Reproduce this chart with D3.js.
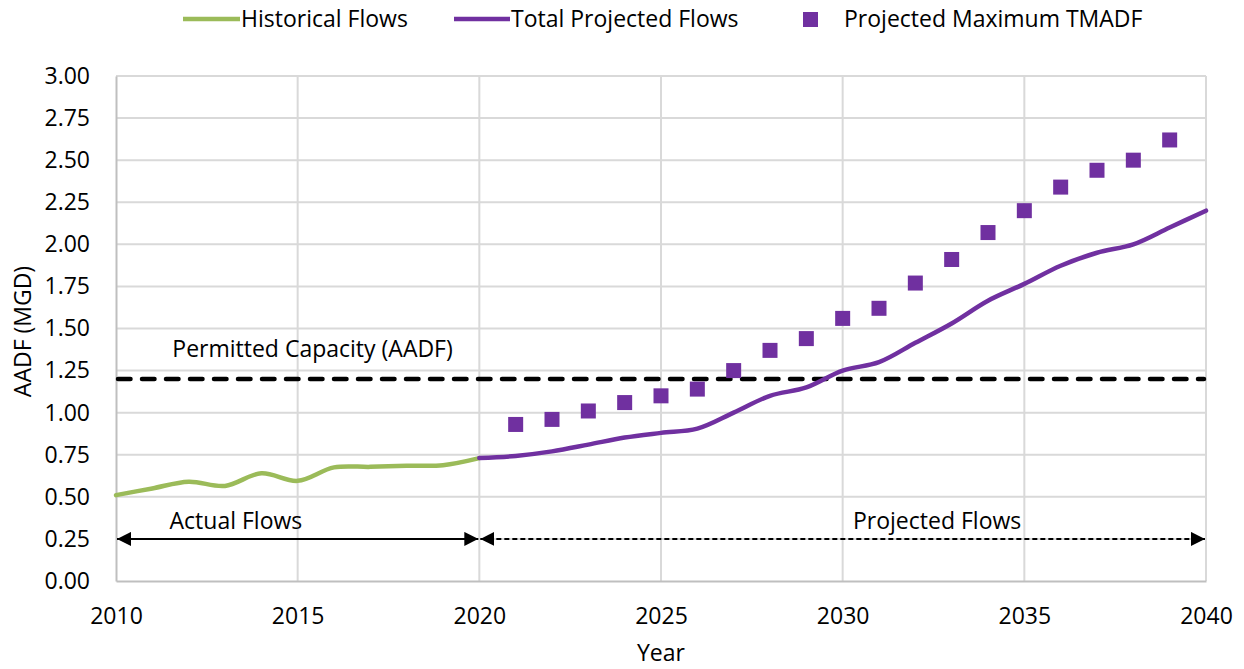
<!DOCTYPE html>
<html lang="en">
<head>
<meta charset="utf-8">
<title>AADF projections</title>
<script src="https://d3js.org/d3.v7.min.js"></script>
<style>
  body { margin: 0; background: #fff; font-family: 'Open Sans', sans-serif; }
  .tick text { font-family: 'Open Sans', sans-serif; font-size: 23px; fill: #000; }
  .lbl { font-family: 'Open Sans', sans-serif; font-size: 23px; fill: #000; }
</style>
</head>
<body>
<div id="chart"></div>
<script>

// data
var histYears = [2010, 2011, 2012, 2013, 2014, 2015, 2016, 2017, 2018, 2019, 2020];
var histFlows = [0.51, 0.55, 0.59, 0.565, 0.64, 0.595, 0.675, 0.678, 0.685, 0.688, 0.73];

var projYears = [2020, 2021, 2022, 2023, 2024, 2025, 2026, 2027, 2028, 2029, 2030,
                 2031, 2032, 2033, 2034, 2035, 2036, 2037, 2038, 2039, 2040];
var projFlows = [0.73, 0.743, 0.77, 0.81, 0.852, 0.88, 0.905, 1.0, 1.1, 1.15, 1.25,
                 1.30, 1.415, 1.53, 1.665, 1.765, 1.873, 1.95, 2.0, 2.10, 2.20];

var maxYears = [2021, 2022, 2023, 2024, 2025, 2026, 2027, 2028, 2029, 2030,
                2031, 2032, 2033, 2034, 2035, 2036, 2037, 2038, 2039];
var maxTmadf = [0.93, 0.96, 1.01, 1.06, 1.10, 1.14, 1.25, 1.37, 1.44, 1.56,
                1.62, 1.77, 1.91, 2.07, 2.20, 2.34, 2.44, 2.50, 2.62];

var permittedCapacity = 1.20;
var xTicks = [2010, 2015, 2020, 2025, 2030, 2035, 2040];
var yTicks = [0, 0.25, 0.5, 0.75, 1.0, 1.25, 1.5, 1.75, 2.0, 2.25, 2.5, 2.75, 3.0];

var colours = { green: "#9BBB59", purple: "#7030A0", grid: "#D9D9D9", axis: "#BFBFBF" };

var W = 1244, H = 669;
var margin = {top: 76, right: 38, bottom: 88, left: 116};
var width = W - margin.left - margin.right,
    height = H - margin.top - margin.bottom;

var svgRoot = d3.select("#chart").append("svg")
  .attr("width", W).attr("height", H);

var svg = svgRoot.append("g")
  .attr("transform", "translate(" + margin.left + "," + margin.top + ")");

var x = d3.scaleLinear().domain([2010, 2040]).range([0, width]);
var y = d3.scaleLinear().domain([0, 3]).range([height, 0]);

// gridlines
svg.append("g")
  .selectAll("line")
  .data(yTicks.slice(1))
  .join("line")
    .attr("x1", 0).attr("x2", width)
    .attr("y1", function(d) { return y(d) }).attr("y2", function(d) { return y(d) })
    .attr("stroke", colours.grid).attr("stroke-width", 2);

svg.append("g")
  .selectAll("line")
  .data(xTicks.slice(1))
  .join("line")
    .attr("x1", function(d) { return x(d) }).attr("x2", function(d) { return x(d) })
    .attr("y1", 0).attr("y2", height)
    .attr("stroke", colours.grid).attr("stroke-width", 2);

// axes
var xAxis = svg.append("g")
  .attr("transform", "translate(0," + height + ")")
  .call(d3.axisBottom(x).tickValues(xTicks).tickFormat(d3.format("d")).tickSize(0).tickPadding(27));
var yAxis = svg.append("g")
  .call(d3.axisLeft(y).tickValues(yTicks).tickFormat(d3.format(".2f")).tickSize(0).tickPadding(26));
[xAxis, yAxis].forEach(function(a) {
  a.select(".domain").attr("stroke", colours.axis).attr("stroke-width", 2);
});

// axis titles
svgRoot.append("text").attr("class", "lbl")
  .attr("x", margin.left + width / 2).attr("y", 661)
  .attr("text-anchor", "middle").text("Year");
svgRoot.append("text").attr("class", "lbl")
  .attr("transform", "translate(31," + (margin.top + height / 2 + 3) + ") rotate(-90)")
  .attr("text-anchor", "middle").text("AADF (MGD)");

// permitted capacity
svg.append("line")
  .attr("x1", 2).attr("x2", width - 2)
  .attr("y1", y(permittedCapacity)).attr("y2", y(permittedCapacity))
  .attr("stroke", "#000").attr("stroke-width", 4.5)
  .attr("stroke-dasharray", "12.5,11.5").attr("stroke-linecap", "round");
svg.append("text").attr("class", "lbl")
  .attr("x", x(2011.55)).attr("y", y(permittedCapacity) - 22)
  .text("Permitted Capacity (AADF)");

// lines
var line = d3.line()
  .x(function(d) { return x(d[0]) })
  .y(function(d) { return y(d[1]) })
  .curve(d3.curveCatmullRom.alpha(0.5));

svg.append("path")
  .datum(histYears.map(function(d, i) { return [d, histFlows[i]] }))
  .attr("d", line)
  .attr("fill", "none").attr("stroke", colours.green)
  .attr("stroke-width", 4.5).attr("stroke-linecap", "round");

svg.append("path")
  .datum(projYears.map(function(d, i) { return [d, projFlows[i]] }))
  .attr("d", line)
  .attr("fill", "none").attr("stroke", colours.purple)
  .attr("stroke-width", 4.5).attr("stroke-linecap", "round");

// max TMADF squares
var sq = 15;
svg.append("g")
  .selectAll("rect")
  .data(maxYears.map(function(d, i) { return [d, maxTmadf[i]] }))
  .join("rect")
    .attr("x", function(d) { return x(d[0]) - sq / 2 })
    .attr("y", function(d) { return y(d[1]) - sq / 2 })
    .attr("width", sq).attr("height", sq)
    .attr("fill", colours.purple);

// arrow markers
var defs = svgRoot.append("defs");
defs.append("marker")
  .attr("id", "arrowEnd").attr("viewBox", "0 0 10 10")
  .attr("refX", 10).attr("refY", 5)
  .attr("markerWidth", 7).attr("markerHeight", 7)
  .attr("markerUnits", "strokeWidth")
  .attr("orient", "auto-start-reverse")
  .append("path").attr("d", "M0,0 L10,5 L0,10 Z").attr("fill", "#000");

function arrow(x0, x1, yv, dashed) {
  svg.append("line")
    .attr("x1", x(x0) + 1).attr("x2", x(x1) - 1)
    .attr("y1", y(yv)).attr("y2", y(yv))
    .attr("stroke", "#000").attr("stroke-width", 2)
    .attr("stroke-dasharray", dashed ? "5,3" : null)
    .attr("marker-start", "url(#arrowEnd)")
    .attr("marker-end", "url(#arrowEnd)");
}
arrow(2010, 2020, 0.25, false);
arrow(2020, 2040, 0.25, true);

svg.append("text").attr("class", "lbl")
  .attr("x", x(2013.3)).attr("y", y(0.25) - 10)
  .attr("text-anchor", "middle").text("Actual Flows");
svg.append("text").attr("class", "lbl")
  .attr("x", x(2032.6)).attr("y", y(0.25) - 10)
  .attr("text-anchor", "middle").text("Projected Flows");

// legend
var legend = svgRoot.append("g");
var legendY = 19;
legend.append("line").attr("x1", 183).attr("x2", 240).attr("y1", legendY).attr("y2", legendY)
  .attr("stroke", colours.green).attr("stroke-width", 4.5);
legend.append("text").attr("class", "lbl").attr("x", 241).attr("y", legendY + 8).text("Historical Flows");
legend.append("line").attr("x1", 454).attr("x2", 510).attr("y1", legendY).attr("y2", legendY)
  .attr("stroke", colours.purple).attr("stroke-width", 4.5);
legend.append("text").attr("class", "lbl").attr("x", 511).attr("y", legendY + 8).text("Total Projected Flows");
legend.append("rect").attr("x", 803).attr("y", legendY - 7).attr("width", 15).attr("height", 15)
  .attr("fill", colours.purple);
legend.append("text").attr("class", "lbl").attr("x", 844).attr("y", legendY + 8).text("Projected Maximum TMADF");

</script>
</body>
</html>
